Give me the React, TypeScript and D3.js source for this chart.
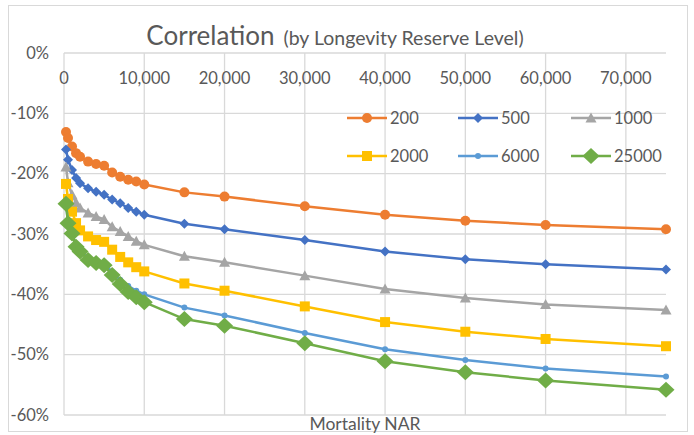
import React from "react";
import * as d3 from "d3";

const xValues = [250, 500, 1000, 1500, 2000, 3000, 4000, 5000, 6000, 7000, 8000, 9000, 10000, 15000, 20000, 30000, 40000, 50000, 60000, 75000];

const s200 = [-13.1, -14.1, -15.5, -16.6, -17.2, -18.0, -18.4, -18.7, -19.8, -20.5, -21.0, -21.3, -21.8, -23.1, -23.8, -25.4, -26.8, -27.8, -28.5, -29.2];
const s500 = [-16.0, -17.7, -19.4, -20.7, -21.6, -22.4, -23.0, -23.5, -24.3, -24.9, -25.7, -26.3, -26.8, -28.3, -29.2, -31.0, -32.9, -34.2, -35.0, -35.9];
const s1000 = [-18.9, -21.5, -23.5, -24.8, -25.7, -26.5, -27.1, -27.6, -28.8, -29.6, -30.4, -31.2, -31.8, -33.7, -34.7, -36.9, -39.1, -40.6, -41.7, -42.6];
const s2000 = [-21.7, -24.2, -26.3, -28.2, -29.4, -30.4, -31.0, -31.3, -32.6, -33.8, -34.7, -35.5, -36.2, -38.2, -39.4, -42.0, -44.6, -46.2, -47.4, -48.6];
const s6000 = [-25.0, -28.0, -29.9, -31.8, -32.7, -34.0, -34.5, -34.8, -36.3, -37.6, -38.6, -39.4, -40.0, -42.2, -43.5, -46.4, -49.1, -50.9, -52.3, -53.6];
const s25000 = [-25.0, -28.2, -29.9, -32.1, -32.9, -34.3, -34.8, -35.2, -36.8, -38.3, -39.6, -40.5, -41.3, -44.1, -45.2, -48.1, -51.1, -52.9, -54.3, -55.8];

const seriesNames = ["200", "500", "1000", "2000", "6000", "25000"];
const seriesData = [s200, s500, s1000, s2000, s6000, s25000];
const seriesColors = ["#ED7D31", "#4472C4", "#A5A5A5", "#FFC000", "#5B9BD5", "#70AD47"];
const seriesMarkers = ["circle", "diamondS", "triangle", "square", "smallCircle", "diamondL"];

const xTicks = [0, 10000, 20000, 30000, 40000, 50000, 60000, 70000];
const yTicks = [0, -10, -20, -30, -40, -50, -60];

const FONT = "Lato, 'Open Sans', sans-serif";
const TXT = "#595959";
const GRID = "#D9D9D9";

function Marker({ kind, x, y, color }: { kind: string; x: number; y: number; color: string }) {
  switch (kind) {
    case "circle":
      return <circle cx={x} cy={y} r={5} fill={color} />;
    case "smallCircle":
      return <circle cx={x} cy={y} r={3} fill={color} />;
    case "diamondS":
      return <path d={`M${x},${y - 5}L${x + 5},${y}L${x},${y + 5}L${x - 5},${y}Z`} fill={color} />;
    case "diamondL":
      return <path d={`M${x},${y - 8}L${x + 8.5},${y}L${x},${y + 8}L${x - 8.5},${y}Z`} fill={color} />;
    case "triangle":
      return <path d={`M${x},${y - 5.5}L${x + 5.5},${y + 4.5}L${x - 5.5},${y + 4.5}Z`} fill={color} />;
    case "square":
      return <rect x={x - 5} y={y - 5} width={10} height={10} fill={color} />;
    default:
      return null;
  }
}

export default function App() {
  const W = 694, H = 435;
  const left = 64, right = 666, top = 53, bottom = 415;
  const x = d3.scaleLinear().domain([0, 75000]).range([left, right]);
  const y = d3.scaleLinear().domain([0, -60]).range([top, bottom]);
  const line = d3.line<[number, number]>().x((d) => x(d[0])).y((d) => y(d[1]));
  const fmt = d3.format(",");

  const legendCols = [347, 458, 571];
  const legendRows = [118, 156];

  return (
    <svg width={W} height={H} style={{ position: "absolute", left: 0, top: 0 }} fontFamily={FONT}>
      <rect x={0} y={0} width={W} height={H} fill="#fff" />
      <rect x={8.5} y={5.5} width={679} height={426} fill="#fff" stroke={GRID} />
      {yTicks.map((t) => (
        <line key={"gy" + t} x1={left} x2={right} y1={y(t)} y2={y(t)} stroke={GRID} strokeWidth={1.3} />
      ))}
      {xTicks.map((t) => (
        <line key={"gx" + t} x1={x(t)} x2={x(t)} y1={top} y2={bottom} stroke={GRID} strokeWidth={1.3} />
      ))}
      <text x={335} y={45} textAnchor="middle" fill={TXT}>
        <tspan fontSize={26}>Correlation</tspan>
        <tspan fontSize={19.5} dx={9}>(by Longevity Reserve Level)</tspan>
      </text>
      {yTicks.map((t) => (
        <text key={"ty" + t} x={49} y={y(t) + 5.5} textAnchor="end" fontSize={16.5} fill={TXT}>
          {t + "%"}
        </text>
      ))}
      {xTicks.map((t) => (
        <text key={"tx" + t} x={x(t)} y={84} textAnchor="middle" fontSize={16.5} fill={TXT}>
          {fmt(t)}
        </text>
      ))}
      <text x={(left + right) / 2} y={430} textAnchor="middle" fontSize={17.5} fill={TXT}>
        Mortality NAR
      </text>
      {seriesData.map((vals, i) => {
        const pts = xValues.map((xv, j) => [xv, vals[j]] as [number, number]);
        return (
          <g key={"s" + i}>
            <path d={line(pts) || ""} fill="none" stroke={seriesColors[i]} strokeWidth={2.5} strokeLinejoin="round" />
            {pts.map((p, j) => (
              <Marker key={j} kind={seriesMarkers[i]} x={x(p[0])} y={y(p[1])} color={seriesColors[i]} />
            ))}
          </g>
        );
      })}
      {seriesNames.map((name, i) => {
        const cx = legendCols[i % 3];
        const cy = legendRows[Math.floor(i / 3)];
        return (
          <g key={"l" + i}>
            <line x1={cx} x2={cx + 40} y1={cy} y2={cy} stroke={seriesColors[i]} strokeWidth={2.5} />
            <Marker kind={seriesMarkers[i]} x={cx + 20} y={cy} color={seriesColors[i]} />
            <text x={cx + 43} y={cy + 6} fontSize={16.5} fill={TXT}>
              {name}
            </text>
          </g>
        );
      })}
    </svg>
  );
}
